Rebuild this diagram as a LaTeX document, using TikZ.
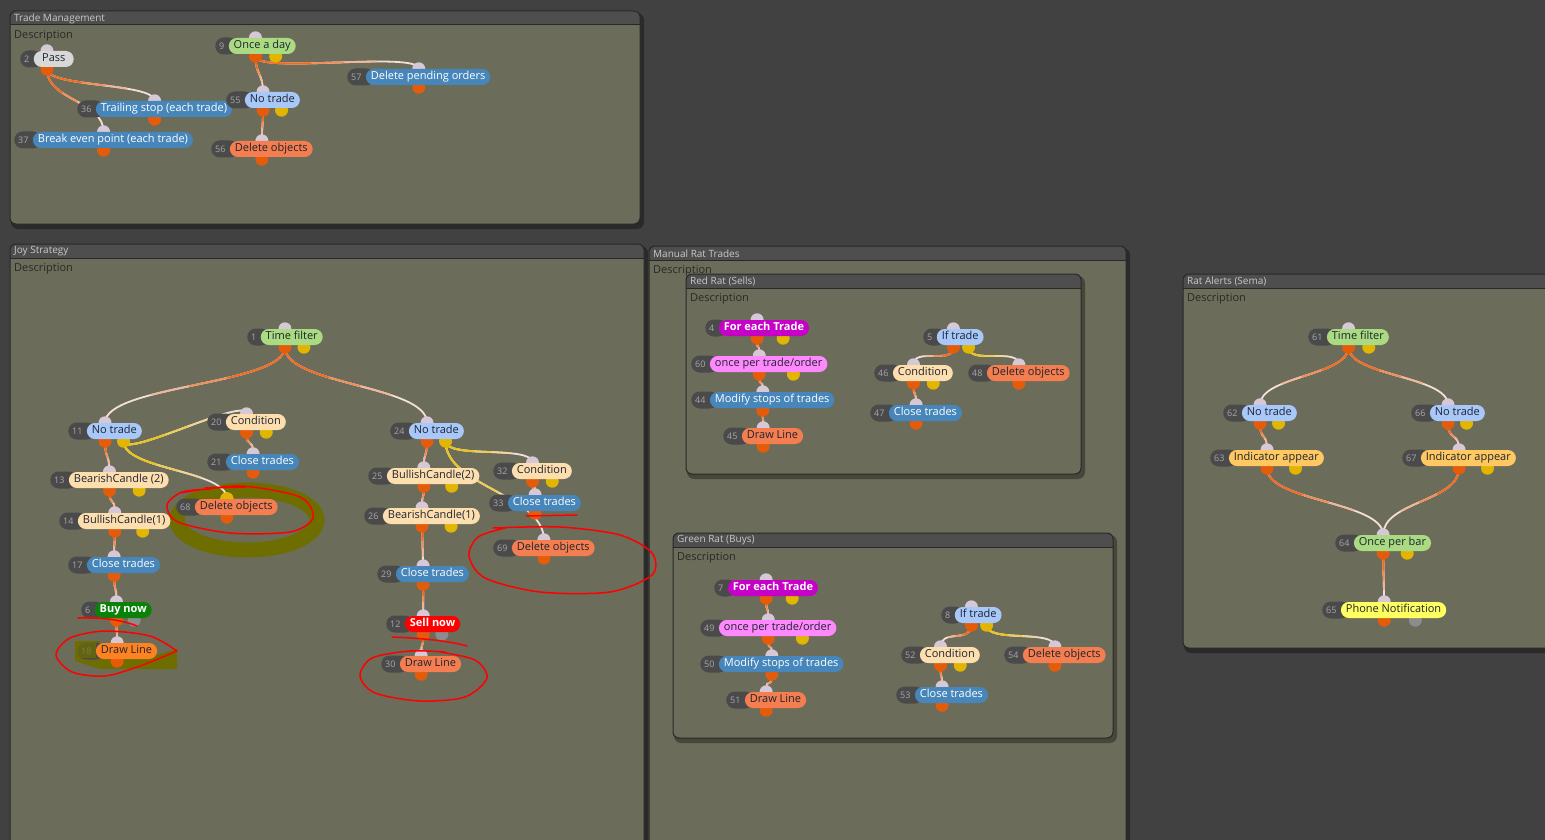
\documentclass[tikz,border=0pt]{standalone}
\usepackage{fontspec}
\setmainfont{Open Sans}
\usetikzlibrary{positioning,calc}
\definecolor{bgdark}{RGB}{65,65,65}
\definecolor{panelbg}{RGB}{108,108,90}
\definecolor{panelhead}{RGB}{78,78,78}
\definecolor{grpedgec}{RGB}{40,40,40}
\definecolor{headtext}{RGB}{200,200,200}
\definecolor{desctext}{RGB}{42,42,38}
\definecolor{numbg}{RGB}{74,74,74}
\definecolor{numtext}{RGB}{168,168,168}
\definecolor{lbltext}{RGB}{30,36,48}
\definecolor{inport}{RGB}{214,200,214}
\definecolor{outorange}{RGB}{228,92,10}
\definecolor{outyellow}{RGB}{226,182,0}
\definecolor{outgrey}{RGB}{140,140,140}
\definecolor{wireorange}{RGB}{240,108,38}
\definecolor{wireyellow}{RGB}{234,196,30}
\definecolor{wirepale}{RGB}{242,224,216}
\definecolor{lblgreen}{RGB}{170,218,130}
\definecolor{lbllblue}{RGB}{168,200,250}
\definecolor{lblblue}{RGB}{70,134,186}
\definecolor{lblorange}{RGB}{244,126,80}
\definecolor{lbldraw}{RGB}{255,130,34}
\definecolor{lblcream}{RGB}{253,222,174}
\definecolor{lblgrey}{RGB}{216,216,216}
\definecolor{lblbuy}{RGB}{10,130,10}
\definecolor{lblsell}{RGB}{255,0,0}
\definecolor{lblmagenta}{RGB}{198,0,198}
\definecolor{lblpink}{RGB}{255,136,255}
\definecolor{lblamber}{RGB}{255,200,96}
\definecolor{lblyellow}{RGB}{255,255,96}
\definecolor{olivehl}{RGB}{110,110,0}
\pgfdeclarelayer{back}
\pgfdeclarelayer{wire}
\pgfdeclarelayer{port}
\pgfsetlayers{back,wire,port,main}
\def\blknone{none}
\newcommand\grp[6]{%
  \begin{pgfonlayer}{back}
  \fill[grpshadow] (#2+1,#3+2) rectangle (#4+4,#5+5);
  \fill[grpbox] (#2,#3) rectangle (#4,#5);
  \begin{scope}
    \clip[rounded corners=6pt] (#2,#3) rectangle (#4,#5);
    \fill[panelhead] (#2,#3) rectangle (#4,#3+14);
    \draw[grpedgec, line width=1pt] (#2,#3+14) -- (#4,#3+14);
  \end{scope}
  \draw[grpedge] (#2,#3) rectangle (#4,#5);
  \node[grptitle] (#1t) at (#2+4,#3+7.5) {#6};
  \node[grpdesc] (#1d) at (#2+4,#3+24.5) {Description};
  \end{pgfonlayer}}
\newcommand\blk[6]{%
  \node[numbox] (#1n) at (#2) {\hspace*{4pt}#3\hspace*{13pt}};
  \node[#4, right=-9pt of #1n] (#1) {#5};
  \coordinate (#1m) at ($(#1n.west)!0.5!(#1.east)$);
  \coordinate (#1q) at ($(#1n.west)!0.75!(#1.east)$);
  \coordinate (#1i) at (#1m |- #1.north);
  \coordinate (#1o) at ($(#1m |- #1.south)+(0,2)$);
  \coordinate (#1y) at ($(#1q |- #1.south)+(0,2)$);
  \begin{pgfonlayer}{port}
    \fill[inport] (#1i) circle (6.5);
    \fill[outorange] (#1o) circle (6.5);
    \def\blkport{#6}\ifx\blkport\blknone\else\fill[#6] (#1y) circle (6.5);\fi
  \end{pgfonlayer}}
\newcommand\wire[3]{%
  \path (#1); \pgfgetlastxy{\wax}{\way}%
  \path (#2); \pgfgetlastxy{\wbx}{\wby}%
  \pgfmathsetmacro\wlen{veclen(\wbx-\wax,\wby-\way)}%
  \pgfmathsetmacro\wk{min(45,max(18,0.5*abs(\wby-\way)))}%
  \pgfmathsetmacro\wda{0.75*\wlen}%
  \pgfmathsetmacro\wdb{0.55*\wlen}%
  \pgfmathsetmacro\wdc{0.35*\wlen}%
  \begin{pgfonlayer}{wire}
    \draw[wire, wirepale] (#1) .. controls +(0,\wk) and +(0,-\wk) .. (#2);
    \draw[wire, #3!35!wirepale, dash pattern=on \wda pt off 5000pt] (#1) .. controls +(0,\wk) and +(0,-\wk) .. (#2);
    \draw[wire, #3!70!wirepale, dash pattern=on \wdb pt off 5000pt] (#1) .. controls +(0,\wk) and +(0,-\wk) .. (#2);
    \draw[wire, #3, dash pattern=on \wdc pt off 5000pt] (#1) .. controls +(0,\wk) and +(0,-\wk) .. (#2);
  \end{pgfonlayer}}
\begin{document}
\begin{tikzpicture}[x=1pt, y=-1pt,
  numbox/.style={rectangle, rounded corners=8.5pt, fill=numbg, text=numtext,
                 font=\fontsize{9}{10}\selectfont, minimum height=17pt, inner xsep=0pt,
                 inner ysep=0pt, anchor=west, text height=6.5pt, text depth=0pt, yshift=-2pt},
  lbl/.style={rectangle, rounded corners=8pt, fill=#1, text=lbltext,
              font=\fontsize{11}{13}\selectfont, minimum height=16pt, inner xsep=5pt,
              inner ysep=0pt, text height=8pt, text depth=2.5pt},
  lblw/.style={lbl=#1, text=white},
  lblb/.style={lbl=#1, text=white, font=\fontsize{11}{13}\selectfont\bfseries},
  wire/.style={line width=1.8pt, line cap=round},
  grpbox/.style={fill=panelbg, rounded corners=6pt},
  grpedge/.style={draw=grpedgec, line width=1pt, rounded corners=6pt},
  grpshadow/.style={fill=black, opacity=0.35, rounded corners=7pt},
  grptitle/.style={anchor=west, inner sep=0pt, text=headtext, font=\fontsize{10}{12}\selectfont},
  grpdesc/.style={anchor=west, inner sep=0pt, text=desctext, font=\fontsize{11}{13}\selectfont},
  redpen/.style={draw=red, line width=1.5pt, line cap=round, line join=round},
  hilite/.style={draw=olivehl, line width=15pt}
]
\useasboundingbox (0,0) rectangle (1545,840);
\begin{pgfonlayer}{back}
\fill[bgdark] (0,0) rectangle (1545,840);
\end{pgfonlayer}
\grp{tm}{10}{11}{640}{224}{Trade Management}
\grp{js}{10}{244}{644}{870}{Joy Strategy}
\grp{mr}{649}{246}{1126}{870}{Manual Rat Trades}
\grp{rr}{686}{274}{1081}{474}{Red Rat (Sells)}
\grp{gr}{673}{533}{1113}{738}{Green Rat (Buys)}
\grp{ra}{1183}{274}{1570}{648}{Rat Alerts (Sema)}
\begin{pgfonlayer}{back}
\draw[hilite] (247,520) ellipse [x radius=70, y radius=30];
\fill[olivehl] (75,641) -- (100,641) -- (100,657) -- (150,657) -- (177,649) -- (177,669) -- (100,669) -- (75,661) -- cycle;
\end{pgfonlayer}

\blk{b2}{20,57}{2}{lbl=lblgrey, minimum width=40pt}{Pass}{none}
\blk{b9}{215,44}{9}{lbl=lblgreen}{Once a day}{outyellow}
\blk{b57}{347,75}{57}{lblw=lblblue}{Delete pending orders}{none}
\blk{b36}{77,107}{36}{lblw=lblblue}{Trailing stop (each trade)}{none}
\blk{b55}{226,98}{55}{lbl=lbllblue}{No trade}{outyellow}
\blk{b37}{14,138}{37}{lblw=lblblue}{Break even point (each trade)}{none}
\blk{b56}{211,147}{56}{lbl=lblorange}{Delete objects}{none}
\wire{b2o}{b36i}{wireorange}
\wire{b2o}{b37i}{wireorange}
\wire{b9o}{b55i}{wireorange}
\wire{b9o}{b57i}{wireorange}
\wire{b55o}{b56i}{wireorange}

\blk{b1}{247,335}{1}{lbl=lblgreen}{Time filter}{outyellow}
\blk{b11}{68,429}{11}{lbl=lbllblue}{No trade}{outyellow}
\blk{b20}{207,420}{20}{lbl=lblcream}{Condition}{outyellow}
\blk{b21}{207,460}{21}{lblw=lblblue}{Close trades}{none}
\blk{b13}{50,478}{13}{lbl=lblcream}{BearishCandle (2)}{outyellow}
\blk{b68}{176,505}{68}{lbl=lblorange}{Delete objects}{none}
\blk{b14}{59,519}{14}{lbl=lblcream}{BullishCandle(1)}{outyellow}
\blk{b17}{68,563}{17}{lblw=lblblue}{Close trades}{none}
\blk{b6}{81,608}{6}{lblb=lblbuy}{Buy now}{outgrey}
\blk{b18}{77,649}{18}{lbl=lbldraw}{Draw Line}{none}
\blk{b24}{390,429}{24}{lbl=lbllblue}{No trade}{outyellow}
\blk{b25}{368,474}{25}{lbl=lblcream}{BullishCandle(2)}{outyellow}
\blk{b32}{493,469}{32}{lbl=lblcream}{Condition}{outyellow}
\blk{b33}{489,501}{33}{lblw=lblblue}{Close trades}{none}
\blk{b26}{364,514}{26}{lbl=lblcream}{BearishCandle(1)}{outyellow}
\blk{b69}{493,546}{69}{lbl=lblorange}{Delete objects}{none}
\blk{b29}{377,572}{29}{lblw=lblblue}{Close trades}{none}
\blk{b12}{386,622}{12}{lblb=lblsell}{Sell now}{outgrey}
\blk{b30}{381,662}{30}{lbl=lblorange}{Draw Line}{none}
\begin{pgfonlayer}{port}
\fill[outyellow] (b68i) circle (6.5);
\end{pgfonlayer}
\wire{b1o}{b11i}{wireorange}
\wire{b1o}{b24i}{wireorange}
\wire{b11o}{b13i}{wireorange}
\wire{b11y}{b20i}{wireyellow}
\wire{b11y}{b68i}{wireyellow}
\wire{b20o}{b21i}{wireorange}
\wire{b13o}{b14i}{wireorange}
\wire{b14o}{b17i}{wireorange}
\wire{b17o}{b6i}{wireorange}
\wire{b6o}{b18i}{wireorange}
\wire{b24o}{b25i}{wireorange}
\wire{b24y}{b32i}{wireyellow}
\wire{b24y}{b69i}{wireyellow}
\wire{b32o}{b33i}{wireorange}
\wire{b25o}{b26i}{wireorange}
\wire{b26o}{b29i}{wireorange}
\wire{b29o}{b12i}{wireorange}
\wire{b12o}{b30i}{wireorange}

\blk{b4}{705,326}{4}{lblb=lblmagenta}{For each Trade}{outyellow}
\blk{b60}{691,362}{60}{lbl=lblpink}{once per trade/order}{outyellow}
\blk{b44}{691,398}{44}{lblw=lblblue}{Modify stops of trades}{none}
\blk{b45}{723,434}{45}{lbl=lblorange}{Draw Line}{none}
\blk{b5}{923,335}{5}{lbl=lbllblue}{If trade}{outyellow}
\blk{b46}{874,371}{46}{lbl=lblcream}{Condition}{outyellow}
\blk{b48}{968,371}{48}{lbl=lblorange}{Delete objects}{none}
\blk{b47}{870,411}{47}{lblw=lblblue}{Close trades}{none}
\wire{b4o}{b60i}{wireorange}
\wire{b60o}{b44i}{wireorange}
\wire{b44o}{b45i}{wireorange}
\wire{b5o}{b46i}{wireorange}
\wire{b5y}{b48i}{wireyellow}
\wire{b46o}{b47i}{wireorange}

\blk{b7}{714,586}{7}{lblb=lblmagenta}{For each Trade}{outyellow}
\blk{b49}{700,626}{49}{lbl=lblpink}{once per trade/order}{outyellow}
\blk{b50}{700,662}{50}{lblw=lblblue}{Modify stops of trades}{none}
\blk{b51}{726,698}{51}{lbl=lblorange}{Draw Line}{none}
\blk{b8}{941,613}{8}{lbl=lbllblue}{If trade}{outyellow}
\blk{b52}{901,653}{52}{lbl=lblcream}{Condition}{outyellow}
\blk{b54}{1004,653}{54}{lbl=lblorange}{Delete objects}{none}
\blk{b53}{896,693}{53}{lblw=lblblue}{Close trades}{none}
\wire{b7o}{b49i}{wireorange}
\wire{b49o}{b50i}{wireorange}
\wire{b50o}{b51i}{wireorange}
\wire{b8o}{b52i}{wireorange}
\wire{b8y}{b54i}{wireyellow}
\wire{b52o}{b53i}{wireorange}

\blk{b61}{1308,335}{61}{lbl=lblgreen}{Time filter}{outyellow}
\blk{b62}{1223,411}{62}{lbl=lbllblue}{No trade}{outyellow}
\blk{b66}{1411,411}{66}{lbl=lbllblue}{No trade}{outyellow}
\blk{b63}{1210,456}{63}{lbl=lblamber}{Indicator appear}{outyellow}
\blk{b67}{1402,456}{67}{lbl=lblamber}{Indicator appear}{outyellow}
\blk{b64}{1335,541}{64}{lbl=lblgreen}{Once per bar}{outyellow}
\blk{b65}{1322,608}{65}{lbl=lblyellow}{Phone Notification}{outgrey}
\wire{b61o}{b62i}{wireorange}
\wire{b61o}{b66i}{wireorange}
\wire{b62o}{b63i}{wireorange}
\wire{b66o}{b67i}{wireorange}
\wire{b63o}{b64i}{wireorange}
\wire{b67o}{b64i}{wireorange}
\wire{b64o}{b65i}{wireorange}

\fill[olivehl, opacity=0.7] (75,641) rectangle (96,658);
\draw[redpen] plot[smooth] coordinates {(180,493) (240,486) (300,497) (313,518) (290,532) (230,533) (178,522) (167,505) (182,492) (210,489)};
\draw[redpen] (205,488) -- (245,487);
\draw[redpen] (78,618) .. controls (105,617) and (125,621) .. (137,626);
\draw[redpen] plot[smooth] coordinates {(177,651) (150,636) (105,631) (70,638) (56,655) (72,672) (105,676) (140,666) (177,651)};
\draw[redpen] (392,637) .. controls (420,638) and (450,641) .. (467,646);
\draw[redpen] plot[smooth] coordinates {(440,652) (475,660) (487,678) (465,697) (420,701) (375,693) (360,676) (372,658) (410,651) (445,652)};
\draw[redpen] (526,516) -- (577,515);
\draw[redpen] plot[smooth] coordinates {(493,528) (560,527) (620,535) (652,553) (652,575) (610,592) (540,592) (485,578) (469,556) (478,537) (505,528)};
\end{tikzpicture}
\end{document}
